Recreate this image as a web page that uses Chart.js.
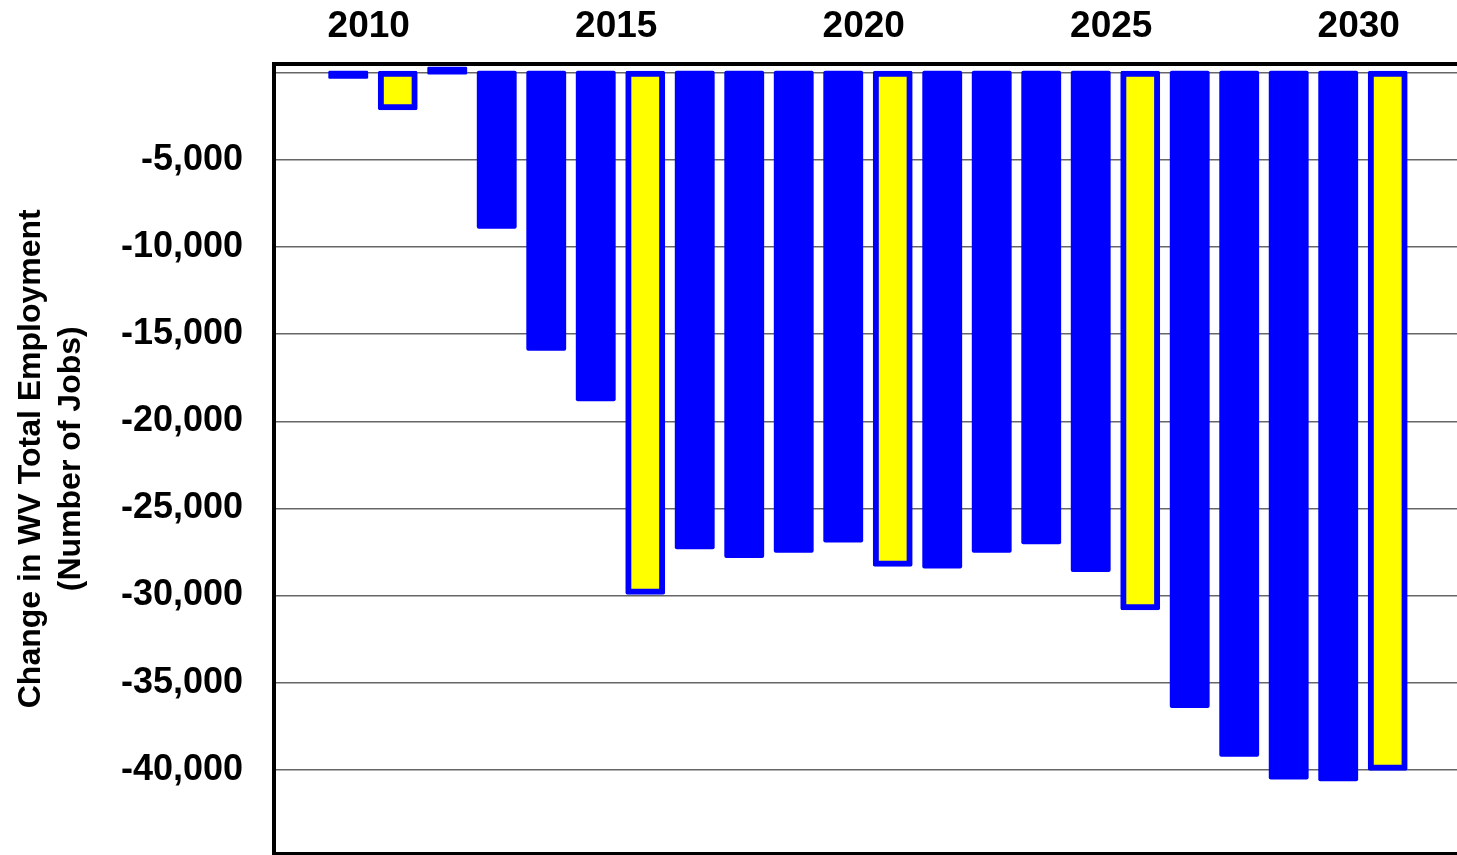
<!DOCTYPE html>
<html>
<head>
<meta charset="utf-8">
<script src="https://cdn.jsdelivr.net/npm/chart.js@4/dist/chart.umd.min.js"></script>
<style>
  html, body { margin: 0; padding: 0; background: #fff; overflow: hidden; }
  #wrap { position: relative; width: 1457px; height: 855px; }
</style>
</head>
<body>
<div id="wrap"><canvas id="jobsChart"></canvas></div>
<script>
// 年ごとの雇用変化（WV）
const years = [2009, 2010, 2011, 2012, 2013, 2014, 2015, 2016, 2017, 2018, 2019,
  2020, 2021, 2022, 2023, 2024, 2025, 2026, 2027, 2028, 2029, 2030];
const jobChange = [-200, -2000, 200, -8800, -15800, -18700, -29800, -27200, -27700, -27400, -26800,
  -28200, -28300, -27400, -26900, -28500, -30700, -36300, -39100, -40400, -40500, -39900];

// 上の軸に出す年（この年のバーは黄色）
const tickYears = [2010, 2015, 2020, 2025, 2030];
// 縦軸の目盛り
const yTicks = [-40000, -35000, -30000, -25000, -20000, -15000, -10000, -5000, 0];

const Y_MIN = -44800;
const Y_MAX = 500;

const points = years.map((y, i) => ({ x: y, y: jobChange[i] }));
const isHighlight = (ctx) => tickYears.includes(years[ctx.dataIndex]);

const FONT = "'Liberation Sans', Arial, sans-serif";

new Chart(document.getElementById("jobsChart"), {
  type: "bar",
  data: {
    datasets: [
      {
        data: points,
        backgroundColor: (ctx) => (isHighlight(ctx) ? "#FFFF00" : "#0000FF"),
        borderColor: "#0000FF",
        borderWidth: (ctx) => (isHighlight(ctx) ? 6 : 0),
        borderSkipped: false,
        borderRadius: 2,
        inflateAmount: 2.6,
        barPercentage: 0.7,
        categoryPercentage: 1.0,
      },
    ],
  },
  options: {
    responsive: true,
    maintainAspectRatio: false,
    animation: false,
    devicePixelRatio: 1,
    layout: { padding: { left: 0, right: 0, top: 0, bottom: 1.5 } },
    plugins: { legend: { display: false }, tooltip: { enabled: false } },
    scales: {
      x: {
        type: "linear",
        position: "top",
        min: 2007.5,
        max: 2031.4,
        offset: false,
        afterBuildTicks: (scale) => {
          scale.ticks = tickYears.map((v) => ({ value: v }));
        },
        afterFit: (scale) => {
          scale.height = 64;
          scale.paddingLeft = 0;
          scale.paddingRight = 0;
        },
        grid: { display: false, drawTicks: false },
        border: { display: true, color: "#000", width: 4 },
        ticks: {
          color: "#000",
          font: { family: FONT, size: 37, weight: "bold" },
          padding: 15,
          labelOffset: -29,
          maxRotation: 0,
          autoSkip: false,
          callback: (v) => String(v),
        },
      },
      y: {
        min: Y_MIN,
        max: Y_MAX,
        afterBuildTicks: (scale) => {
          scale.ticks = [Y_MIN, ...yTicks].map((v) => ({ value: v }));
        },
        afterFit: (scale) => {
          scale.width = 274;
          // ラベル分の上下余白は不要
          scale.paddingTop = 0;
          scale.paddingBottom = 0;
        },
        grid: {
          drawTicks: false,
          color: (ctx) => (ctx.tick && ctx.tick.value === Y_MIN ? "#000" : "#666"),
          lineWidth: (ctx) => (ctx.tick && ctx.tick.value === Y_MIN ? 3.5 : 1.5),
        },
        border: { display: true, color: "#000", width: 4 },
        ticks: {
          color: "#000",
          font: { family: FONT, size: 36, weight: "bold" },
          padding: 31,
          autoSkip: false,
          callback: (v) => (v === 0 || v === Y_MIN ? "" : v.toLocaleString("en-US")),
        },
        title: {
          display: true,
          text: ["Change in WV Total Employment", "(Number of Jobs)"],
          color: "#000",
          font: { family: FONT, size: 32, weight: "bold", lineHeight: 1.25 },
          padding: { top: 11, bottom: 0 },
        },
      },
    },
  },
});
</script>
</body>
</html>
